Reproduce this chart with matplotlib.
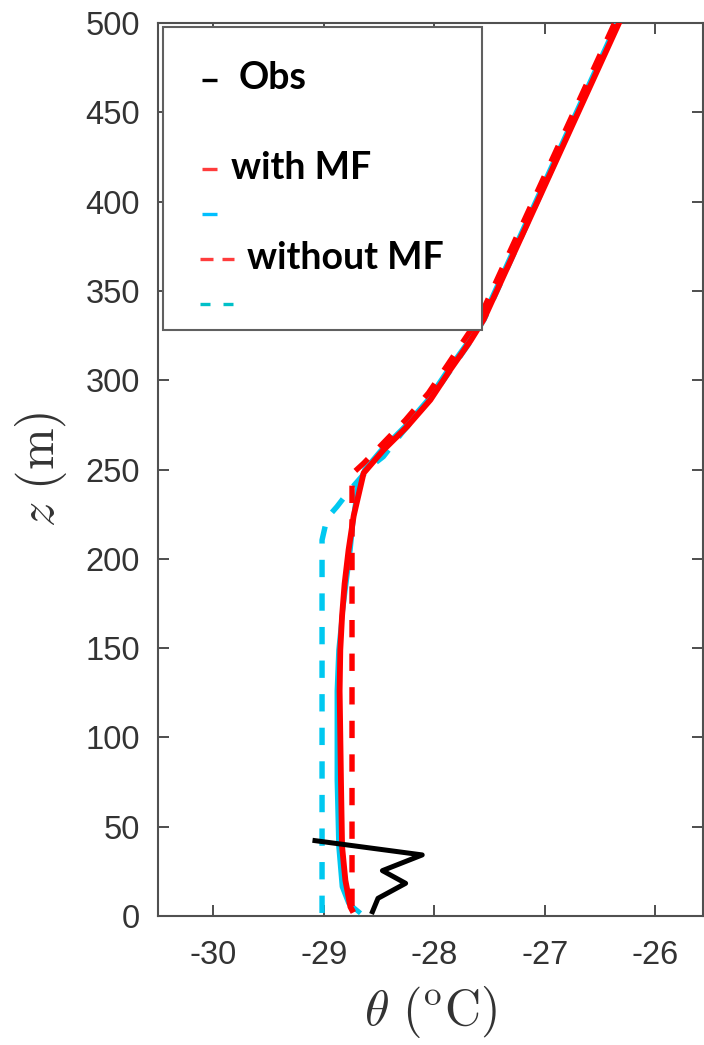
import matplotlib
matplotlib.use("Agg")
import matplotlib.pyplot as plt
from matplotlib.patches import Rectangle

# ---------------- data ----------------
z_obs = [2.4, 9.9, 18.3, 25.4, 34.2, 42.2]
t_obs = [-28.56, -28.51, -28.26, -28.47, -28.11, -29.08]

z_mf_red = [3.4, 5.2, 20, 39, 76, 126, 149, 168, 186, 205, 224, 248, 261, 274, 289, 306, 322, 334, 500]
t_mf_red = [-28.745, -28.76, -28.805, -28.835, -28.845, -28.857, -28.851, -28.835, -28.812,
            -28.776, -28.730, -28.640, -28.459, -28.247, -28.036, -27.855, -27.674, -27.554, -26.33]

z_mf_cyan = [2.4, 7.1, 16.4, 39, 76, 126, 149, 168, 190, 205, 224, 239, 250, 261, 274, 289, 306, 322, 334, 500]
t_mf_cyan = [-28.685, -28.776, -28.835, -28.866, -28.881, -28.881, -28.866, -28.835, -28.790,
             -28.760, -28.730, -28.697, -28.63, -28.48, -28.27, -28.06, -27.875, -27.69, -27.57, -26.35]

z_nomf_red = [5.6, 247.5, 253.5, 263.7, 277.7, 292.8, 308.5, 325.3, 336, 500]
t_nomf_red = [-28.745, -28.745, -28.640, -28.480, -28.262, -28.054, -27.882, -27.701, -27.584, -26.37]

z_nomf_cyan = [1.7, 210.5, 222.8, 229.2, 237.6, 251.6, 257.2, 270, 290, 306, 322, 334, 500]
t_nomf_cyan = [-29.016, -29.016, -28.971, -28.881, -28.776, -28.579, -28.462, -28.30, -28.03,
               -27.85, -27.67, -27.55, -26.34]

x_ticks = [-30, -29, -28, -27, -26]
y_ticks = [0, 50, 100, 150, 200, 250, 300, 350, 400, 450, 500]

legend_labels = ["Obs", "with MF", "without MF"]

# ---------------- figure ----------------
plt.rcParams['mathtext.fontset'] = 'cm'
fig = plt.figure(figsize=(7.04, 10.45), dpi=100)
ax = fig.add_axes([158 / 704, 129 / 1045, 545 / 704, 893 / 1045])

RED = '#FF0000'
CYAN = '#00C8F0'
dash = (3.2, 3.0)

ax.plot(t_nomf_cyan, z_nomf_cyan, color=CYAN, lw=3.9, dashes=dash, zorder=2)
ax.plot(t_mf_cyan, z_mf_cyan, color=CYAN, lw=3.5, zorder=3)
ax.plot(t_nomf_red, z_nomf_red, color=RED, lw=3.9, dashes=dash, zorder=3.5)
ax.plot(t_mf_red, z_mf_red, color=RED, lw=4.2, zorder=4)
ax.plot(t_obs, z_obs, color='black', lw=3.6, zorder=4.5)

ax.set_xlim(-30.5, -25.57)
ax.set_ylim(0, 500)
ax.set_xticks(x_ticks)
ax.set_xticklabels([f"{v:d}" for v in x_ticks])
ax.set_yticks(y_ticks)
ax.set_yticklabels([str(v) for v in y_ticks])

for lab in ax.get_xticklabels() + ax.get_yticklabels():
    lab.set_fontfamily('Liberation Sans')
    lab.set_fontsize(23.5)

ax.tick_params(axis='both', direction='in', length=8, width=1.3, top=True, right=True,
               color='#404040', labelcolor='#333333')
ax.tick_params(axis='x', pad=17)
ax.tick_params(axis='y', pad=13)
for sp in ax.spines.values():
    sp.set_color('#505050')
    sp.set_linewidth(1.5)

ax.set_xlabel(r'$\theta\ (^{\rm o}{\rm C})$', fontsize=36, color='#333333', labelpad=10)
ax.set_ylabel(r'$z\ ({\rm m})$', fontsize=36, color='#333333', labelpad=12)

# ---------------- legend (manual) ----------------
box = Rectangle((0.0097, 0.656), 0.584, 0.3399, transform=ax.transAxes,
                facecolor='white', edgecolor='#606060', lw=1.5, zorder=10, clip_on=False)
ax.add_patch(box)

LRED = '#FF3C3C'
LCYAN = '#00BFFF'
LTEAL = '#00C0C8'
kw = dict(transform=ax.transAxes, clip_on=False, zorder=11, solid_capstyle='butt')
ax.plot([0.080, 0.108], [0.9362, 0.9362], color='black', lw=2.4, **kw)
ax.plot([0.080, 0.109], [0.8365, 0.8365], color=LRED, lw=2.4, **kw)
ax.plot([0.080, 0.109], [0.7858, 0.7858], color=LCYAN, lw=2.4, **kw)
ax.plot([0.077, 0.1015], [0.7353, 0.7353], color=LRED, lw=2.4, **kw)
ax.plot([0.117, 0.1394], [0.7353, 0.7353], color=LRED, lw=2.4, **kw)
ax.plot([0.077, 0.0954], [0.6853, 0.6853], color=LTEAL, lw=2.4, **kw)
ax.plot([0.1198, 0.1382], [0.6853, 0.6853], color=LTEAL, lw=2.4, **kw)

tkw = dict(transform=ax.transAxes, fontfamily='Lato', fontweight='bold', fontsize=27,
           color='black', va='center', ha='left', zorder=12)
ax.text(0.1486, 0.938, legend_labels[0], **tkw)
ax.text(0.1334, 0.8376, legend_labels[1], **tkw)
ax.text(0.1628, 0.7368, legend_labels[2], **tkw)

fig.savefig('out.png', dpi=100, facecolor='white')
